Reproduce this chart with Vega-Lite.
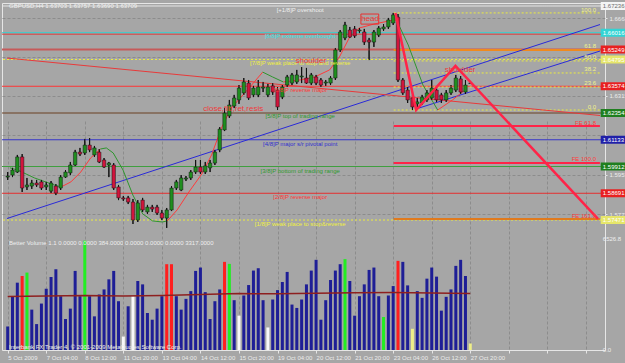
{
"$schema":"https://vega.github.io/schema/vega-lite/v6.json",
"width":603,"height":347,
"autosize":{"type":"none"},
"padding":{"left":2,"top":3,"right":20,"bottom":13},
"background":"#a6a6a6",
"config":{"view":{"stroke":"#e6e6e6","strokeWidth":1},"font":"Liberation Sans","legend":{"disable":true}},
"datasets":{
"candles":[
{"i":0,"o":1.5943,"h":1.5966,"l":1.5930,"c":1.5948},
{"i":1,"o":1.5952,"h":1.5985,"l":1.5943,"c":1.5975},
{"i":2,"o":1.5966,"h":1.6044,"l":1.5962,"c":1.6035},
{"i":3,"o":1.6035,"h":1.6048,"l":1.5875,"c":1.5893},
{"i":4,"o":1.5898,"h":1.5939,"l":1.5884,"c":1.5907},
{"i":5,"o":1.5902,"h":1.5930,"l":1.5889,"c":1.5916},
{"i":6,"o":1.5916,"h":1.5930,"l":1.5898,"c":1.5907},
{"i":7,"o":1.5921,"h":1.5930,"l":1.5884,"c":1.5893},
{"i":8,"o":1.5898,"h":1.5921,"l":1.5884,"c":1.5907},
{"i":9,"o":1.5879,"h":1.5925,"l":1.5870,"c":1.5916},
{"i":10,"o":1.5902,"h":1.5911,"l":1.5861,"c":1.5870},
{"i":11,"o":1.5893,"h":1.5952,"l":1.5884,"c":1.5943},
{"i":12,"o":1.5943,"h":1.5975,"l":1.5939,"c":1.5966},
{"i":13,"o":1.5962,"h":1.6012,"l":1.5952,"c":1.5998},
{"i":14,"o":1.5998,"h":1.6067,"l":1.5994,"c":1.6057},
{"i":15,"o":1.6057,"h":1.6076,"l":1.6039,"c":1.6048},
{"i":16,"o":1.6053,"h":1.6117,"l":1.6044,"c":1.6089},
{"i":17,"o":1.6089,"h":1.6121,"l":1.6057,"c":1.6067},
{"i":18,"o":1.6044,"h":1.6085,"l":1.6035,"c":1.6076},
{"i":19,"o":1.6057,"h":1.6071,"l":1.6007,"c":1.6012},
{"i":20,"o":1.6021,"h":1.6030,"l":1.5985,"c":1.5989},
{"i":21,"o":1.5998,"h":1.6012,"l":1.5943,"c":1.6007},
{"i":22,"o":1.5998,"h":1.6007,"l":1.5884,"c":1.5893},
{"i":23,"o":1.5898,"h":1.5907,"l":1.5838,"c":1.5848},
{"i":24,"o":1.5848,"h":1.5857,"l":1.5834,"c":1.5843},
{"i":25,"o":1.5848,"h":1.5857,"l":1.5820,"c":1.5829},
{"i":26,"o":1.5829,"h":1.5843,"l":1.5729,"c":1.5747},
{"i":27,"o":1.5747,"h":1.5838,"l":1.5738,"c":1.5825},
{"i":28,"o":1.5838,"h":1.5848,"l":1.5784,"c":1.5793},
{"i":29,"o":1.5784,"h":1.5816,"l":1.5775,"c":1.5806},
{"i":30,"o":1.5806,"h":1.5816,"l":1.5784,"c":1.5797},
{"i":31,"o":1.5806,"h":1.5816,"l":1.5770,"c":1.5779},
{"i":32,"o":1.5779,"h":1.5793,"l":1.5747,"c":1.5756},
{"i":33,"o":1.5756,"h":1.5802,"l":1.5711,"c":1.5793},
{"i":34,"o":1.5793,"h":1.5902,"l":1.5788,"c":1.5893},
{"i":35,"o":1.5893,"h":1.5930,"l":1.5884,"c":1.5921},
{"i":36,"o":1.5884,"h":1.5952,"l":1.5879,"c":1.5939},
{"i":37,"o":1.5934,"h":1.5948,"l":1.5925,"c":1.5939},
{"i":38,"o":1.5939,"h":1.5975,"l":1.5930,"c":1.5966},
{"i":39,"o":1.5966,"h":1.6021,"l":1.5957,"c":1.5989},
{"i":40,"o":1.5989,"h":1.6021,"l":1.5957,"c":1.5966},
{"i":41,"o":1.5966,"h":1.6012,"l":1.5957,"c":1.5994},
{"i":42,"o":1.5985,"h":1.6021,"l":1.5966,"c":1.6007},
{"i":43,"o":1.6007,"h":1.6067,"l":1.5998,"c":1.6057},
{"i":44,"o":1.6067,"h":1.6171,"l":1.6057,"c":1.6162},
{"i":45,"o":1.6158,"h":1.6258,"l":1.6153,"c":1.6235},
{"i":46,"o":1.6222,"h":1.6295,"l":1.6213,"c":1.6272},
{"i":47,"o":1.6267,"h":1.6318,"l":1.6258,"c":1.6304},
{"i":48,"o":1.6295,"h":1.6363,"l":1.6277,"c":1.6349},
{"i":49,"o":1.6327,"h":1.6395,"l":1.6318,"c":1.6377},
{"i":50,"o":1.6372,"h":1.6386,"l":1.6295,"c":1.6304},
{"i":51,"o":1.6318,"h":1.6359,"l":1.6308,"c":1.6349},
{"i":52,"o":1.6318,"h":1.6386,"l":1.6308,"c":1.6354},
{"i":53,"o":1.6349,"h":1.6377,"l":1.6331,"c":1.6354},
{"i":54,"o":1.6318,"h":1.6368,"l":1.6308,"c":1.6354},
{"i":55,"o":1.6359,"h":1.6372,"l":1.6318,"c":1.6331},
{"i":56,"o":1.6340,"h":1.6354,"l":1.6249,"c":1.6263},
{"i":57,"o":1.6308,"h":1.6363,"l":1.6299,"c":1.6354},
{"i":58,"o":1.6363,"h":1.6409,"l":1.6354,"c":1.6400},
{"i":59,"o":1.6372,"h":1.6418,"l":1.6363,"c":1.6409},
{"i":60,"o":1.6377,"h":1.6432,"l":1.6368,"c":1.6409},
{"i":61,"o":1.6400,"h":1.6445,"l":1.6372,"c":1.6404},
{"i":62,"o":1.6395,"h":1.6441,"l":1.6368,"c":1.6372},
{"i":63,"o":1.6372,"h":1.6418,"l":1.6363,"c":1.6409},
{"i":64,"o":1.6400,"h":1.6409,"l":1.6363,"c":1.6372},
{"i":65,"o":1.6386,"h":1.6395,"l":1.6354,"c":1.6363},
{"i":66,"o":1.6372,"h":1.6386,"l":1.6359,"c":1.6377},
{"i":67,"o":1.6372,"h":1.6404,"l":1.6363,"c":1.6395},
{"i":68,"o":1.6395,"h":1.6532,"l":1.6386,"c":1.6523},
{"i":69,"o":1.6523,"h":1.6614,"l":1.6514,"c":1.6605},
{"i":70,"o":1.6578,"h":1.6651,"l":1.6568,"c":1.6637},
{"i":71,"o":1.6614,"h":1.6628,"l":1.6578,"c":1.6582},
{"i":72,"o":1.6619,"h":1.6632,"l":1.6578,"c":1.6587},
{"i":73,"o":1.6610,"h":1.6623,"l":1.6600,"c":1.6614},
{"i":74,"o":1.6605,"h":1.6619,"l":1.6546,"c":1.6559},
{"i":75,"o":1.6568,"h":1.6578,"l":1.6477,"c":1.6559},
{"i":76,"o":1.6559,"h":1.6614,"l":1.6537,"c":1.6605},
{"i":77,"o":1.6591,"h":1.6632,"l":1.6582,"c":1.6623},
{"i":78,"o":1.6619,"h":1.6641,"l":1.6610,"c":1.6628},
{"i":79,"o":1.6628,"h":1.6669,"l":1.6619,"c":1.6660},
{"i":80,"o":1.6646,"h":1.6692,"l":1.6637,"c":1.6683},
{"i":81,"o":1.6673,"h":1.6687,"l":1.6377,"c":1.6386},
{"i":82,"o":1.6386,"h":1.6395,"l":1.6318,"c":1.6327},
{"i":83,"o":1.6340,"h":1.6354,"l":1.6281,"c":1.6295},
{"i":84,"o":1.6304,"h":1.6318,"l":1.6249,"c":1.6263},
{"i":85,"o":1.6277,"h":1.6304,"l":1.6258,"c":1.6286},
{"i":86,"o":1.6281,"h":1.6318,"l":1.6272,"c":1.6308},
{"i":87,"o":1.6295,"h":1.6340,"l":1.6286,"c":1.6327},
{"i":88,"o":1.6304,"h":1.6386,"l":1.6295,"c":1.6349},
{"i":89,"o":1.6340,"h":1.6349,"l":1.6286,"c":1.6295},
{"i":90,"o":1.6318,"h":1.6327,"l":1.6281,"c":1.6295},
{"i":91,"o":1.6295,"h":1.6340,"l":1.6286,"c":1.6327},
{"i":92,"o":1.6327,"h":1.6363,"l":1.6318,"c":1.6349},
{"i":93,"o":1.6340,"h":1.6409,"l":1.6331,"c":1.6395},
{"i":94,"o":1.6391,"h":1.6404,"l":1.6322,"c":1.6331},
{"i":95,"o":1.6331,"h":1.6386,"l":1.6322,"c":1.6363},
{"i":96,"o":1.63703,"h":1.63757,"l":1.63690,"c":1.63709}
],
"vol":[
{"i":0,"v":1382,"type":"normal"},{"i":1,"v":3162,"type":"normal"},{"i":2,"v":3957,"type":"normal"},{"i":3,"v":4349,"type":"climax high"},
{"i":4,"v":4551,"type":"churn"},{"i":5,"v":2373,"type":"normal"},{"i":6,"v":1523,"type":"normal"},{"i":7,"v":2729,"type":"normal"},
{"i":8,"v":3600,"type":"normal"},{"i":9,"v":4290,"type":"normal"},{"i":10,"v":4746,"type":"normal"},{"i":11,"v":3162,"type":"normal"},
{"i":12,"v":1821,"type":"normal"},{"i":13,"v":2432,"type":"normal"},{"i":14,"v":4648,"type":"normal"},{"i":15,"v":3162,"type":"normal"},
{"i":16,"v":6427,"type":"churn"},{"i":17,"v":3162,"type":"normal"},{"i":18,"v":1977,"type":"normal"},{"i":19,"v":3263,"type":"normal"},
{"i":20,"v":3560,"type":"normal"},{"i":21,"v":4153,"type":"normal"},{"i":22,"v":4648,"type":"normal"},{"i":23,"v":2867,"type":"normal"},
{"i":24,"v":791,"type":"climax low"},{"i":25,"v":2570,"type":"normal"},{"i":26,"v":3162,"type":"climax low"},{"i":27,"v":4055,"type":"normal"},
{"i":28,"v":3857,"type":"normal"},{"i":29,"v":2175,"type":"normal"},{"i":30,"v":1780,"type":"normal"},{"i":31,"v":2432,"type":"normal"},
{"i":32,"v":3162,"type":"normal"},{"i":33,"v":5043,"type":"climax high"},{"i":34,"v":5043,"type":"climax high"},{"i":35,"v":3162,"type":"normal"},
{"i":36,"v":2373,"type":"normal"},{"i":37,"v":3006,"type":"normal"},{"i":38,"v":3461,"type":"normal"},{"i":39,"v":4648,"type":"normal"},
{"i":40,"v":4846,"type":"normal"},{"i":41,"v":3400,"type":"normal"},{"i":42,"v":1821,"type":"normal"},{"i":43,"v":2867,"type":"normal"},
{"i":44,"v":3560,"type":"normal"},{"i":45,"v":5180,"type":"climax high"},{"i":46,"v":5061,"type":"churn"},{"i":47,"v":2927,"type":"normal"},
{"i":48,"v":2017,"type":"climax low"},{"i":49,"v":3204,"type":"normal"},{"i":50,"v":3817,"type":"normal"},{"i":51,"v":4668,"type":"normal"},
{"i":52,"v":4806,"type":"normal"},{"i":53,"v":2927,"type":"normal"},{"i":54,"v":1325,"type":"climax low"},{"i":55,"v":2967,"type":"normal"},
{"i":56,"v":3520,"type":"normal"},{"i":57,"v":3995,"type":"normal"},{"i":58,"v":4589,"type":"normal"},{"i":59,"v":2670,"type":"normal"},
{"i":60,"v":2472,"type":"normal"},{"i":61,"v":2967,"type":"normal"},{"i":62,"v":3857,"type":"normal"},{"i":63,"v":4668,"type":"normal"},
{"i":64,"v":5299,"type":"normal"},{"i":65,"v":1780,"type":"normal"},{"i":66,"v":2927,"type":"normal"},{"i":67,"v":4114,"type":"normal"},
{"i":68,"v":4668,"type":"normal"},{"i":69,"v":5043,"type":"normal"},{"i":70,"v":5340,"type":"churn"},{"i":71,"v":4055,"type":"normal"},
{"i":72,"v":2017,"type":"normal"},{"i":73,"v":3162,"type":"normal"},{"i":74,"v":3857,"type":"normal"},{"i":75,"v":4707,"type":"normal"},
{"i":76,"v":4846,"type":"normal"},{"i":77,"v":3162,"type":"normal"},{"i":78,"v":1940,"type":"churn"},{"i":79,"v":3204,"type":"normal"},
{"i":80,"v":3758,"type":"normal"},{"i":81,"v":5240,"type":"climax high"},{"i":82,"v":5180,"type":"normal"},{"i":83,"v":3797,"type":"normal"},
{"i":84,"v":1246,"type":"low volume"},{"i":85,"v":3461,"type":"normal"},{"i":86,"v":3065,"type":"normal"},{"i":87,"v":4193,"type":"normal"},
{"i":88,"v":4846,"type":"normal"},{"i":89,"v":4312,"type":"normal"},{"i":90,"v":2314,"type":"normal"},{"i":91,"v":3125,"type":"normal"},
{"i":92,"v":3560,"type":"normal"},{"i":93,"v":4944,"type":"normal"},{"i":94,"v":5299,"type":"normal"},{"i":95,"v":4349,"type":"normal"},
{"i":96,"v":384,"type":"low volume"}
],
"volma":[
{"i":0,"v":3150},{"i":8,"v":3170},{"i":16,"v":3200},{"i":24,"v":3180},{"i":32,"v":3210},{"i":40,"v":3260},{"i":48,"v":3320},
{"i":56,"v":3300},{"i":64,"v":3340},{"i":72,"v":3360},{"i":80,"v":3380},{"i":88,"v":3350},{"i":96,"v":3317}
],
"murrey":[
{"name":"+1/8","p":1.672363},{"name":"8/8","p":1.660156},{"name":"line A","p":1.6595},{"name":"7/8","p":1.647949},
{"name":"6/8","p":1.635742},{"name":"5/8","p":1.623535},{"name":"4/8","p":1.611328},{"name":"3/8","p":1.599121},
{"name":"2/8","p":1.586914},{"name":"1/8","p":1.574707}
],
"fib":[
{"level":"100.0","i":80.1,"i2":122.9,"p":1.6692},{"level":"50.0","i":80.1,"i2":122.9,"p":1.6473},
{"level":"38.2","i":80.1,"i2":122.9,"p":1.6418},{"level":"23.6","i":80.1,"i2":122.9,"p":1.6354},
{"level":"0.0","i":80.1,"i2":122.9,"p":1.6249}
],
"ext":[
{"name":"Fib 61.8","i":80.1,"i2":122.9,"p":1.6523},{"name":"FE 61.8","i":80.1,"i2":122.9,"p":1.6176},
{"name":"FE 100.0","i":80.1,"i2":122.9,"p":1.6007},{"name":"FE 161.8","i":80.1,"i2":122.9,"p":1.5752}
],
"trend":[
{"id":"channel","i":-0.143,"p":1.5754},{"id":"channel","i":122.92,"p":1.6639},
{"id":"neck","i":84.76,"p":1.6254},{"id":"neck","i":122.92,"p":1.6518},
{"id":"down","i":-0.143,"p":1.6486},{"id":"down","i":122.92,"p":1.6224}
],
"ma":[
{"seg":1,"dir":"down","i":0.47,"p":1.5985},{"seg":1,"dir":"down","i":2.1,"p":1.5975},{"seg":1,"dir":"down","i":5.57,"p":1.5939},{"seg":1,"dir":"down","i":9.65,"p":1.5907},{"seg":1,"dir":"down","i":11.08,"p":1.5898},
{"seg":2,"dir":"up","i":11.08,"p":1.5898},{"seg":2,"dir":"up","i":13.12,"p":1.5921},{"seg":2,"dir":"up","i":15.16,"p":1.5966},{"seg":2,"dir":"up","i":17.2,"p":1.6030},{"seg":2,"dir":"up","i":19.24,"p":1.6071},
{"seg":3,"dir":"down","i":19.24,"p":1.6071},{"seg":3,"dir":"down","i":20.47,"p":1.6076},{"seg":3,"dir":"down","i":21.9,"p":1.6053},{"seg":3,"dir":"down","i":23.94,"p":1.5975},{"seg":3,"dir":"down","i":25.98,"p":1.5861},{"seg":3,"dir":"down","i":28.02,"p":1.5775},{"seg":3,"dir":"down","i":30.06,"p":1.5743},{"seg":3,"dir":"down","i":32.1,"p":1.5738},{"seg":3,"dir":"down","i":33.12,"p":1.5743},
{"seg":4,"dir":"up","i":33.12,"p":1.5743},{"seg":4,"dir":"up","i":35.16,"p":1.5793},{"seg":4,"dir":"up","i":37.61,"p":1.5875},{"seg":4,"dir":"up","i":40.27,"p":1.5957},{"seg":4,"dir":"up","i":42.31,"p":1.6044},{"seg":4,"dir":"up","i":44.35,"p":1.6167},{"seg":4,"dir":"up","i":46.39,"p":1.6258},{"seg":4,"dir":"up","i":48.43,"p":1.6308},{"seg":4,"dir":"up","i":50.47,"p":1.6359},{"seg":4,"dir":"up","i":52.92,"p":1.6422},
{"seg":5,"dir":"down","i":52.92,"p":1.6422},{"seg":5,"dir":"down","i":54.96,"p":1.6400},{"seg":5,"dir":"down","i":57.2,"p":1.6377},
{"seg":6,"dir":"up","i":57.2,"p":1.6377},{"seg":6,"dir":"up","i":60.67,"p":1.6386},{"seg":6,"dir":"up","i":63.73,"p":1.6400},{"seg":6,"dir":"up","i":66.8,"p":1.6432},{"seg":6,"dir":"up","i":68.84,"p":1.6491},{"seg":6,"dir":"up","i":70.88,"p":1.6578},{"seg":6,"dir":"up","i":72.92,"p":1.6623},{"seg":6,"dir":"up","i":75.98,"p":1.6641},{"seg":6,"dir":"up","i":79.04,"p":1.6655},{"seg":6,"dir":"up","i":80.67,"p":1.6660},
{"seg":7,"dir":"down","i":80.67,"p":1.6660},{"seg":7,"dir":"down","i":83.12,"p":1.6546},{"seg":7,"dir":"down","i":86.18,"p":1.6363},{"seg":7,"dir":"down","i":89.24,"p":1.6249},
{"seg":8,"dir":"up","i":89.24,"p":1.6249},{"seg":8,"dir":"up","i":92.31,"p":1.6295},{"seg":8,"dir":"up","i":95.37,"p":1.6349}
],
"zigzag":[
{"i":80.47,"p":1.6692},{"i":84.76,"p":1.6249},{"i":92.92,"p":1.6450},{"i":122.5,"p":1.5752}
],
"murreyText":[
{"name":"+1/8","text":"[+1/8]P overshoot","p":1.6705},
{"name":"8/8","text":"[8/8]P extreme overbought","p":1.6587},
{"name":"7/8","text":"[7/8]P weak place to stop and reverse","p":1.6464},
{"name":"6/8","text":"[6/8]P reverse major","p":1.6340},
{"name":"5/8","text":"[5/8]P top of trading range","p":1.6222},
{"name":"4/8","text":"[4/8]P major s/r pivotal point","p":1.6094},
{"name":"3/8","text":"[3/8]P bottom of trading range","p":1.5971},
{"name":"2/8","text":"[2/8]P reverse major","p":1.5852},
{"name":"1/8","text":"[1/8]P weak place to stop&reverse","p":1.5729}
],
"pattern":[
{"text":"shoulder","i":62.9,"p":1.6473},{"text":"head","i":75.2,"p":1.6664},
{"text":"shoulder","i":93.9,"p":1.6432},{"text":"close,fib,ret,resis","i":46.8,"p":1.6254}
],
"fibText":[
{"text":"100.0","p":1.6705},{"text":"61.8","p":1.6541},{"text":"50.0","p":1.6491},
{"text":"38.2","p":1.6436},{"text":"23.6","p":1.6372},{"text":"0.0","p":1.6263}
],
"feText":[
{"text":"FE 61.8","p":1.6192},{"text":"FE 100.0","p":1.6024},{"text":"FE 161.8","p":1.5765}
],
"tags":[
{"name":"+1/8","label":"1.67236","p":1.672363},{"name":"8/8","label":"1.66016","p":1.660156},
{"name":"line B","label":"1.65249","p":1.65249},{"name":"7/8","label":"1.64795","p":1.647949},
{"name":"6/8","label":"1.63574","p":1.635742},{"name":"5/8","label":"1.62354","p":1.623535},
{"name":"4/8","label":"1.61133","p":1.611328},{"name":"3/8","label":"1.59912","p":1.599121},
{"name":"2/8","label":"1.58691","p":1.586914},{"name":"1/8","label":"1.57471","p":1.574707}
]
},
"layer":[
{
"layer":[
{"data":{"name":"candles"},"mark":{"type":"rule","color":"#111111","strokeWidth":1},
 "encoding":{
  "x":{"field":"i","type":"quantitative","title":null,"scale":{"domain":[-0.143,122.92],"nice":false,"zero":false},
   "axis":{"values":[0,4,8,12,16,20,24,28,32,36,40,44,48,52,56,60,64,68,72,76,80,84,88,92,96,100,104,108,112,116,120],
    "grid":true,"gridColor":"#8c8c8c","gridDash":[3,2],"gridOpacity":1,"domain":false,"ticks":true,"tickSize":3,"tickColor":"#e6e6e6",
    "labelColor":"#ececec","labelFontSize":6,"labelAlign":"left","labelBaseline":"top","labelPadding":1,"labelOverlap":false,"labelFlush":false,"labelBound":false,
    "labelExpr":"datum.value % 8 == 0 && datum.value <= 96 ? ['5 Oct 2009','7 Oct 04:00','8 Oct 12:00','11 Oct 20:00','13 Oct 04:00','14 Oct 12:00','15 Oct 20:00','19 Oct 04:00','20 Oct 12:00','21 Oct 20:00','23 Oct 04:00','26 Oct 12:00','27 Oct 20:00'][datum.value / 8] : ''"}},
  "y":{"field":"h","type":"quantitative","title":null,"scale":{"domain":[1.56924,1.67373],"range":[229,0],"nice":false,"zero":false},
   "axis":{"orient":"right","values":[1.66685,1.65795,1.64905,1.64031,1.6315,1.6226,1.6137,1.60425,1.59535,1.58645,1.57735,1.5686],
    "grid":true,"gridColor":"#8c8c8c","gridDash":[3,2],"gridOpacity":1,"domain":false,"ticks":true,"tickSize":2,"tickColor":"#e6e6e6",
    "labelColor":"#ececec","labelFontSize":6,"labelPadding":2,"labelOverlap":false,"labelBound":false,"labelFlush":false,
    "labelExpr":"indexof([1.66685,1.64031,1.6315,1.60425,1.59535,1.57735,1.5686], datum.value) >= 0 ? format(datum.value, '.5f') : ''"}},
  "y2":{"field":"l"}}},
{"data":{"name":"murrey"},"mark":{"type":"rule","strokeWidth":1},
 "encoding":{
  "y":{"field":"p","type":"quantitative","title":null,"scale":{"domain":[1.56924,1.67373],"range":[229,0],"nice":false,"zero":false}},
  "color":{"field":"name","type":"nominal","scale":{"domain":["+1/8","8/8","line A","7/8","6/8","5/8","4/8","3/8","2/8","1/8"],"range":["#e6e6e6","#2ed3d3","#e23a3a","#ecec40","#ff3535","#6a4022","#3636c8","#3f9f3f","#e53030","#ecec40"]}},
  "strokeDash":{"field":"name","type":"nominal","scale":{"domain":["+1/8","8/8","line A","7/8","6/8","5/8","4/8","3/8","2/8","1/8"],"range":[[1,0],[1,0],[1,0],[2,2],[1,0],[1,0],[1,0],[1,0],[1,0],[2,2]]}}
 }},
{"data":{"values":[{"name":"line B","p":1.65249}]},"mark":{"type":"rule","strokeWidth":2,"color":"#c65a5a"},
 "encoding":{"y":{"field":"p","type":"quantitative","title":null,"scale":{"domain":[1.56924,1.67373],"range":[229,0],"nice":false,"zero":false}}}},
{"data":{"name":"fib"},"mark":{"type":"rule","strokeWidth":1,"color":"#ecec40","strokeDash":[2,2]},
 "encoding":{
  "x":{"field":"i","type":"quantitative","title":null,"scale":{"domain":[-0.143,122.92],"nice":false,"zero":false}},
  "x2":{"field":"i2"},
  "y":{"field":"p","type":"quantitative","title":null,"scale":{"domain":[1.56924,1.67373],"range":[229,0],"nice":false,"zero":false}}}},
{"data":{"name":"ext"},"mark":{"type":"rule","strokeWidth":2},
 "encoding":{
  "x":{"field":"i","type":"quantitative","title":null,"scale":{"domain":[-0.143,122.92],"nice":false,"zero":false}},
  "x2":{"field":"i2"},
  "y":{"field":"p","type":"quantitative","title":null,"scale":{"domain":[1.56924,1.67373],"range":[229,0],"nice":false,"zero":false}},
  "color":{"field":"name","type":"nominal","scale":{"domain":["Fib 61.8","FE 61.8","FE 100.0","FE 161.8"],"range":["#f08a1e","#ff2448","#ff2448","#e07a1e"]}}}},
{"data":{"name":"trend"},"mark":{"type":"line","strokeWidth":1},
 "encoding":{
  "x":{"field":"i","type":"quantitative","title":null,"scale":{"domain":[-0.143,122.92],"nice":false,"zero":false}},
  "y":{"field":"p","type":"quantitative","title":null,"scale":{"domain":[1.56924,1.67373],"range":[229,0],"nice":false,"zero":false}},
  "detail":{"field":"id"},
  "color":{"field":"id","type":"nominal","scale":{"domain":["channel","neck","down"],"range":["#2a2ad8","#2a2ad8","#e83a3a"]}}}},
{"data":{"name":"ma"},"mark":{"type":"line","strokeWidth":1},
 "encoding":{
  "x":{"field":"i","type":"quantitative","title":null,"scale":{"domain":[-0.143,122.92],"nice":false,"zero":false}},
  "y":{"field":"p","type":"quantitative","title":null,"scale":{"domain":[1.56924,1.67373],"range":[229,0],"nice":false,"zero":false}},
  "detail":{"field":"seg"},
  "color":{"field":"dir","type":"nominal","scale":{"domain":["up","down"],"range":["#ff3a3a","#2e962e"]}}}},
{"data":{"name":"candles"},"mark":{"type":"rule","color":"#111111","strokeWidth":1},
 "encoding":{
  "x":{"field":"i","type":"quantitative","title":null,"scale":{"domain":[-0.143,122.92],"nice":false,"zero":false}},
  "y":{"field":"h","type":"quantitative","title":null,"scale":{"domain":[1.56924,1.67373],"range":[229,0],"nice":false,"zero":false}},
  "y2":{"field":"l"}}},
{"data":{"name":"candles"},"mark":{"type":"bar","width":3.4,"stroke":"#151515","strokeWidth":0.5},
 "encoding":{
  "x":{"field":"i","type":"quantitative","title":null,"scale":{"domain":[-0.143,122.92],"nice":false,"zero":false}},
  "y":{"field":"o","type":"quantitative","title":null,"scale":{"domain":[1.56924,1.67373],"range":[229,0],"nice":false,"zero":false}},
  "y2":{"field":"c"},
  "color":{"condition":{"test":"datum.c >= datum.o","value":"#1f8f1f"},"value":"#d2143c"}}},
{"data":{"name":"zigzag"},"mark":{"type":"line","strokeWidth":2.5,"color":"#ff2448"},
 "encoding":{
  "x":{"field":"i","type":"quantitative","title":null,"scale":{"domain":[-0.143,122.92],"nice":false,"zero":false}},
  "y":{"field":"p","type":"quantitative","title":null,"scale":{"domain":[1.56924,1.67373],"range":[229,0],"nice":false,"zero":false}}}},
{"data":{"values":[{"i":73.3,"i2":77.0,"p":1.6687,"p2":1.6641}]},"mark":{"type":"rect","fillOpacity":0,"stroke":"#e83030","strokeWidth":1},
 "encoding":{
  "x":{"field":"i","type":"quantitative","title":null,"scale":{"domain":[-0.143,122.92],"nice":false,"zero":false}},
  "x2":{"field":"i2"},
  "y":{"field":"p","type":"quantitative","title":null,"scale":{"domain":[1.56924,1.67373],"range":[229,0],"nice":false,"zero":false}},
  "y2":{"field":"p2"}}},
{"data":{"name":"murreyText"},"mark":{"type":"text","fontSize":6,"align":"center","baseline":"middle"},
 "encoding":{
  "x":{"datum":60.7,"type":"quantitative","title":null,"scale":{"domain":[-0.143,122.92],"nice":false,"zero":false}},
  "y":{"field":"p","type":"quantitative","title":null,"scale":{"domain":[1.56924,1.67373],"range":[229,0],"nice":false,"zero":false}},
  "text":{"field":"text"},
  "color":{"field":"name","type":"nominal","scale":{"domain":["+1/8","8/8","7/8","6/8","5/8","4/8","3/8","2/8","1/8"],"range":["#f0f0f0","#38e0e0","#f0f040","#ff3535","#2f9a2f","#3030d0","#2f9a2f","#ff3535","#f0f040"]}}}},
{"data":{"name":"pattern"},"mark":{"type":"text","fontSize":8,"align":"center","baseline":"middle","color":"#f03a3a"},
 "encoding":{
  "x":{"field":"i","type":"quantitative","title":null,"scale":{"domain":[-0.143,122.92],"nice":false,"zero":false}},
  "y":{"field":"p","type":"quantitative","title":null,"scale":{"domain":[1.56924,1.67373],"range":[229,0],"nice":false,"zero":false}},
  "text":{"field":"text"}}},
{"data":{"name":"fibText"},"mark":{"type":"text","fontSize":6,"align":"right","baseline":"middle","color":"#f2f28a"},
 "encoding":{
  "x":{"datum":122.1,"type":"quantitative","title":null,"scale":{"domain":[-0.143,122.92],"nice":false,"zero":false}},
  "y":{"field":"p","type":"quantitative","title":null,"scale":{"domain":[1.56924,1.67373],"range":[229,0],"nice":false,"zero":false}},
  "text":{"field":"text"}}},
{"data":{"name":"feText"},"mark":{"type":"text","fontSize":6,"align":"right","baseline":"middle","color":"#ff3c3c"},
 "encoding":{
  "x":{"datum":122.1,"type":"quantitative","title":null,"scale":{"domain":[-0.143,122.92],"nice":false,"zero":false}},
  "y":{"field":"p","type":"quantitative","title":null,"scale":{"domain":[1.56924,1.67373],"range":[229,0],"nice":false,"zero":false}},
  "text":{"field":"text"}}},
{"data":{"values":[{"text":"GBPUSD,H4  1.63703 1.63757 1.63690 1.63709","i":0.27,"p":1.6724}]},"mark":{"type":"text","fontSize":6,"align":"left","baseline":"middle","color":"#f0f0f0"},
 "encoding":{
  "x":{"field":"i","type":"quantitative","title":null,"scale":{"domain":[-0.143,122.92],"nice":false,"zero":false}},
  "y":{"field":"p","type":"quantitative","title":null,"scale":{"domain":[1.56924,1.67373],"range":[229,0],"nice":false,"zero":false}},
  "text":{"field":"text"}}},
{"data":{"name":"tags"},"mark":{"type":"tick","orient":"horizontal","size":34,"thickness":8,"opacity":1},
 "encoding":{
  "x":{"datum":126.6,"type":"quantitative","title":null,"scale":{"domain":[-0.143,122.92],"nice":false,"zero":false}},
  "y":{"field":"p","type":"quantitative","title":null,"scale":{"domain":[1.56924,1.67373],"range":[229,0],"nice":false,"zero":false}},
  "color":{"field":"name","type":"nominal","scale":{"domain":["+1/8","8/8","line B","7/8","6/8","5/8","4/8","3/8","2/8","1/8"],"range":["#f4f4f4","#33d4d4","#e82020","#e6e66a","#e82020","#1f7f1f","#2020a8","#1f7f1f","#e82020","#e6e66a"]}}}},
{"data":{"name":"tags"},"mark":{"type":"text","fontSize":6,"align":"left","baseline":"middle"},
 "encoding":{
  "x":{"datum":123.5,"type":"quantitative","title":null,"scale":{"domain":[-0.143,122.92],"nice":false,"zero":false}},
  "y":{"field":"p","type":"quantitative","title":null,"scale":{"domain":[1.56924,1.67373],"range":[229,0],"nice":false,"zero":false}},
  "text":{"field":"label"},
  "color":{"condition":{"test":"datum.name == '+1/8'","value":"#6e6e6e"},"value":"#ffffff"}}},
{"mark":{"type":"rule","color":"#e6e6e6","strokeWidth":1.5},
 "encoding":{"y":{"datum":1.56924,"type":"quantitative","title":null,"scale":{"domain":[1.56924,1.67373],"range":[229,0],"nice":false,"zero":false}}}}
],
"resolve":{"scale":{"color":"independent","strokeDash":"independent"}}
},
{
"layer":[
{"data":{"name":"vol"},"mark":{"type":"bar","width":3,"orient":"vertical"},
 "encoding":{
  "x":{"field":"i","type":"quantitative","title":null,"scale":{"domain":[-0.143,122.92],"nice":false,"zero":false}},
  "y":{"field":"v","type":"quantitative","scale":{"domain":[0,6700],"range":[347,233],"nice":false,"zero":false},"axis":null},
  "y2":{"datum":0},
  "color":{"field":"type","type":"nominal","scale":{"domain":["normal","climax high","churn","climax low","low volume"],"range":["#1e1e96","#ff1f1f","#22ee22","#f8f8f8","#eeee88"]}}}},
{"data":{"name":"volma"},"mark":{"type":"line","strokeWidth":1.5,"color":"#8e1f1f"},
 "encoding":{
  "x":{"field":"i","type":"quantitative","title":null,"scale":{"domain":[-0.143,122.92],"nice":false,"zero":false}},
  "y":{"field":"v","type":"quantitative","scale":{"domain":[0,6700],"range":[347,233],"nice":false,"zero":false},"axis":null}}},
{"data":{"values":[{"text":"Better Volume 1.1 0.0000 0.0000 384.0000 0.0000 0.0000 0.0000 3317.0000","i":0.27,"v":6289},{"text":"Interbank FX Trader 4, © 2001-2009 MetaQuotes Software Corp.","i":0.27,"v":176}]},
 "mark":{"type":"text","fontSize":6,"align":"left","baseline":"middle","color":"#eeeeee"},
 "encoding":{
  "x":{"field":"i","type":"quantitative","title":null,"scale":{"domain":[-0.143,122.92],"nice":false,"zero":false}},
  "y":{"field":"v","type":"quantitative","scale":{"domain":[0,6700],"range":[347,233],"nice":false,"zero":false},"axis":null},
  "text":{"field":"text"}}},
{"data":{"values":[{"text":"6526.8","v":6526.8},{"text":"0.0","v":0}]},
 "mark":{"type":"text","fontSize":6,"align":"left","baseline":"middle","color":"#eeeeee"},
 "encoding":{
  "x":{"datum":123.5,"type":"quantitative","title":null,"scale":{"domain":[-0.143,122.92],"nice":false,"zero":false}},
  "y":{"field":"v","type":"quantitative","scale":{"domain":[0,6700],"range":[347,233],"nice":false,"zero":false},"axis":null},
  "text":{"field":"text"}}},
{"mark":{"type":"rule","color":"#e6e6e6","strokeWidth":1},
 "encoding":{"y":{"datum":6700,"type":"quantitative","scale":{"domain":[0,6700],"range":[347,233],"nice":false,"zero":false},"axis":null}}}
],
"resolve":{"scale":{"color":"independent"}}
}
],
"resolve":{"scale":{"y":"independent","color":"independent","strokeDash":"independent"},"axis":{"y":"independent"}}
}
